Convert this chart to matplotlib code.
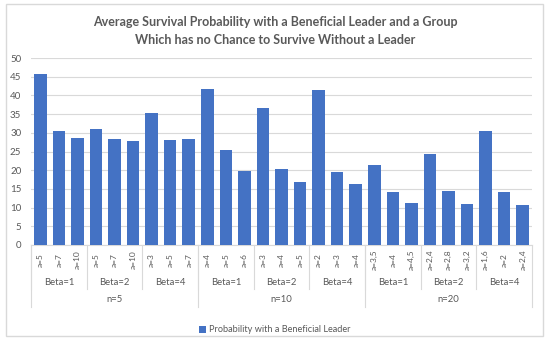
# Average survival probability bar chart with a multi-level category axis
import matplotlib
matplotlib.use('Agg')
import matplotlib.pyplot as plt
import matplotlib.transforms as transforms
from matplotlib.patches import Rectangle

n_labels = ['n=5', 'n=10', 'n=20']
beta_labels = ['Beta=1', 'Beta=2', 'Beta=4']
a_labels = ['a=5', 'a=7', 'a=10', 'a=5', 'a=7', 'a=10', 'a=3', 'a=5', 'a=7',
            'a=4', 'a=5', 'a=6', 'a=3', 'a=4', 'a=5', 'a=2', 'a=3', 'a=4',
            'a=3,5', 'a=4', 'a=4,5', 'a=2,4', 'a=2,8', 'a=3,2', 'a=1,6', 'a=2', 'a=2,4']
probability = [45.7, 30.5, 28.5, 31.0, 28.4, 27.9, 35.3, 28.0, 28.3,
               41.6, 25.4, 19.7, 36.5, 20.3, 16.9, 41.5, 19.5, 16.2,
               21.4, 14.1, 11.1, 24.3, 14.4, 10.9, 30.5, 14.3, 10.6]

plt.rcParams['font.family'] = ['Lato', 'DejaVu Sans']
grey = '#595959'

fig = plt.figure(figsize=(5.5, 3.43), dpi=100)
fig.patches.append(Rectangle((6 / 550, 7 / 343), 537 / 550, 332 / 343,
                             transform=fig.transFigure, fill=False,
                             edgecolor='#d9d9d9', linewidth=1.0))
ax = fig.add_axes([31 / 550, 98 / 343, 501 / 550, 187 / 343])

x = list(range(len(probability)))
ax.bar(x, probability, width=0.68, color='#4472C4',
       label='Probability with a Beneficial Leader', zorder=3)
ax.set_xlim(-0.5, len(probability) - 0.5)
ax.set_ylim(0, 50)
ax.set_yticks(range(0, 51, 5))
ax.tick_params(axis='y', length=0, labelsize=7, labelcolor=grey, pad=7)
ax.set_xticks([])
ax.grid(axis='y', color='#d9d9d9', linewidth=0.8, zorder=0)
for side in ['top', 'right', 'left']:
    ax.spines[side].set_visible(False)
ax.spines['bottom'].set_color('#d9d9d9')

trans = transforms.blended_transform_factory(ax.transData, ax.transAxes)
for i, lab in enumerate(a_labels):
    ax.text(i, -0.08, lab, transform=trans, rotation=90, ha='center', va='center',
            fontsize=6, color=grey)

per_beta = 3
per_n = per_beta * len(beta_labels)
for j in range(len(n_labels) * len(beta_labels)):
    ax.text(j * per_beta + 1, -0.203, beta_labels[j % len(beta_labels)],
            transform=trans, ha='center', va='center', fontsize=6.8, color=grey)
    ax.plot([j * per_beta - 0.5] * 2, [0, -0.235], transform=trans,
            color='#d9d9d9', linewidth=0.8, clip_on=False)
for k, lab in enumerate(n_labels):
    ax.text(k * per_n + (per_n - 1) / 2, -0.294, lab, transform=trans,
            ha='center', va='center', fontsize=6.8, color=grey)
for k in range(len(n_labels) + 1):
    ax.plot([k * per_n - 0.5] * 2, [0, -0.332], transform=trans,
            color='#d9d9d9', linewidth=0.8, clip_on=False)

fig.text(0.5, 1 - 22 / 343, 'Average Survival Probability with a Beneficial Leader and a Group',
         ha='center', va='center', fontsize=9.0, fontweight='bold', color=grey)
fig.text(0.5, 1 - 40 / 343, 'Which has no Chance to Survive Without a Leader',
         ha='center', va='center', fontsize=9.0, fontweight='bold', color=grey)

fig.legend(loc='center', bbox_to_anchor=(0.5, 13 / 343), frameon=False,
           fontsize=6.6, labelcolor=grey, handlelength=0.7, handleheight=0.7,
           handletextpad=0.4)

plt.savefig('out.png', dpi=100)
